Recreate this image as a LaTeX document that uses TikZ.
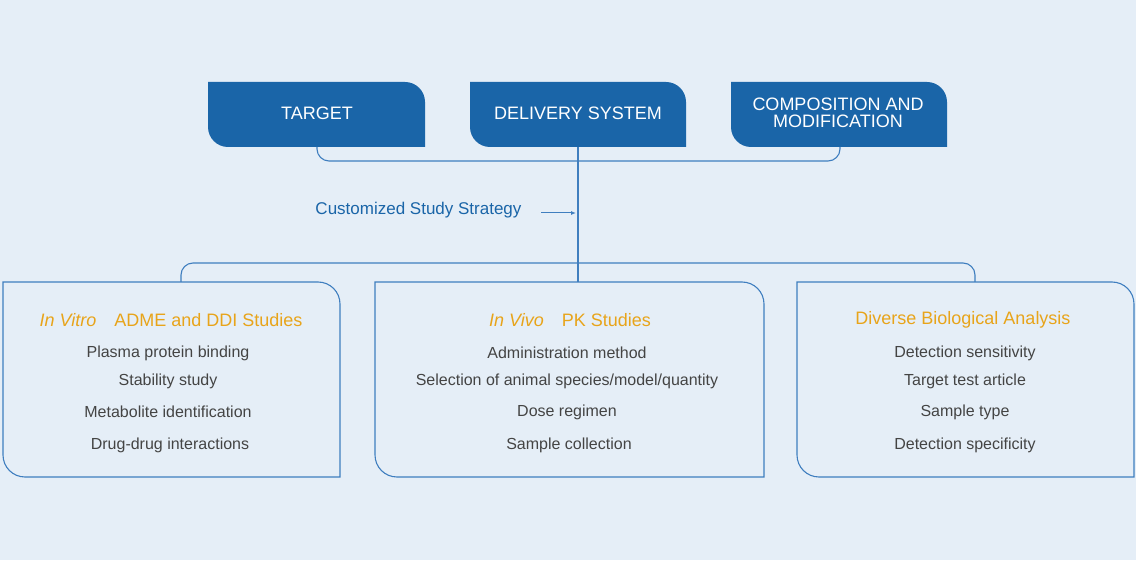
\documentclass[tikz,border=0pt]{standalone}
\usepackage{fontspec}
\setmainfont{Liberation Sans}
\usetikzlibrary{arrows.meta}
\definecolor{bg}{HTML}{E5EEF7}
\definecolor{dblue}{HTML}{1A65A8}
\definecolor{lblue}{HTML}{3F7EBF}
\definecolor{orng}{HTML}{E8A41A}
\definecolor{txt}{HTML}{444444}
\newcommand{\cbox}[6]{% x1 ytop x2 ybot r style
  \path[#6] (#1,#2) -- ({#3-#5},#2) arc[start angle=90,end angle=0,radius=#5] -- (#3,#4) -- ({#1+#5},#4) arc[start angle=270,end angle=180,radius=#5] -- cycle;}
\tikzset{
  top/.style={fill=dblue},
  bot/.style={draw=lblue,line width=1.1pt},
  conn/.style={draw=lblue,line width=1.1pt,rounded corners=12},
  ttl/.style={text=white,font=\fontsize{18}{21}\selectfont,align=center},
  hd/.style={text=orng,font=\fontsize{18}{21}\selectfont},
  it/.style={text=txt,font=\fontsize{16}{19}\selectfont},
}
\begin{document}
\begin{tikzpicture}[x=1pt,y=1pt]
\fill[bg] (0,0) rectangle (1136,560);
\useasboundingbox (0,0) rectangle (1136,560);
\cbox{208}{478}{425}{413}{20}{top}
\cbox{470}{478}{686}{413}{20}{top}
\cbox{731}{478}{947}{413}{20}{top}
\node[ttl] (t1) at (317,447) {TARGET};
\node[ttl] (t2) at (578,447) {DELIVERY SYSTEM};
\node[ttl] (t3) at (838,447) {COMPOSITION AND\\[-4pt]MODIFICATION};
\coordinate (b1) at (317,413);
\coordinate (b2) at (578,413);
\coordinate (b3) at (840,413);
\cbox{3}{278}{340}{83}{22}{bot}
\cbox{375}{278}{764}{83}{22}{bot}
\cbox{797}{278}{1134}{83}{22}{bot}
\coordinate (c1) at (181,278);
\coordinate (c2) at (578,278);
\coordinate (c3) at (975,278);
\draw[conn] (b1) -- (317,399) -- (840,399) -- (b3);
\draw[conn] (c1) -- (181,297) -- (975,297) -- (c3);
\draw[draw=lblue,line width=1.1pt] (b2) -- (c2);
\node[text=dblue,font=\fontsize{17}{20}\selectfont,anchor=east] (css) at (525,350) {Customized Study Strategy};
\coordinate (ah) at (576,347);
\draw[draw=lblue,line width=1pt,-{Latex[length=5pt,width=4pt]}] (541,347) -- (ah);
% box 1
\node[hd] (h1) at (171,240) {\textit{In Vitro}\quad ADME and DDI Studies};
\node[it] (i11) at (168,207) {Plasma protein binding};
\node[it] (i12) at (168,179) {Stability study};
\node[it] (i13) at (168,148) {Metabolite identification};
\node[it] (i14) at (170,115) {Drug-drug interactions};
% box 2
\node[hd] (h2) at (570,240) {\textit{In Vivo}\quad PK Studies};
\node[it] (i21) at (567,207) {Administration method};
\node[it] (i22) at (567,179) {Selection of animal species/model/quantity};
\node[it] (i23) at (567,148) {Dose regimen};
\node[it] (i24) at (569,115) {Sample collection};
% box 3
\node[hd] (h3) at (963,240) {Diverse Biological Analysis};
\node[it] (i31) at (965,207) {Detection sensitivity};
\node[it] (i32) at (965,179) {Target test article};
\node[it] (i33) at (965,148) {Sample type};
\node[it] (i34) at (965,115) {Detection specificity};
\end{tikzpicture}
\end{document}
